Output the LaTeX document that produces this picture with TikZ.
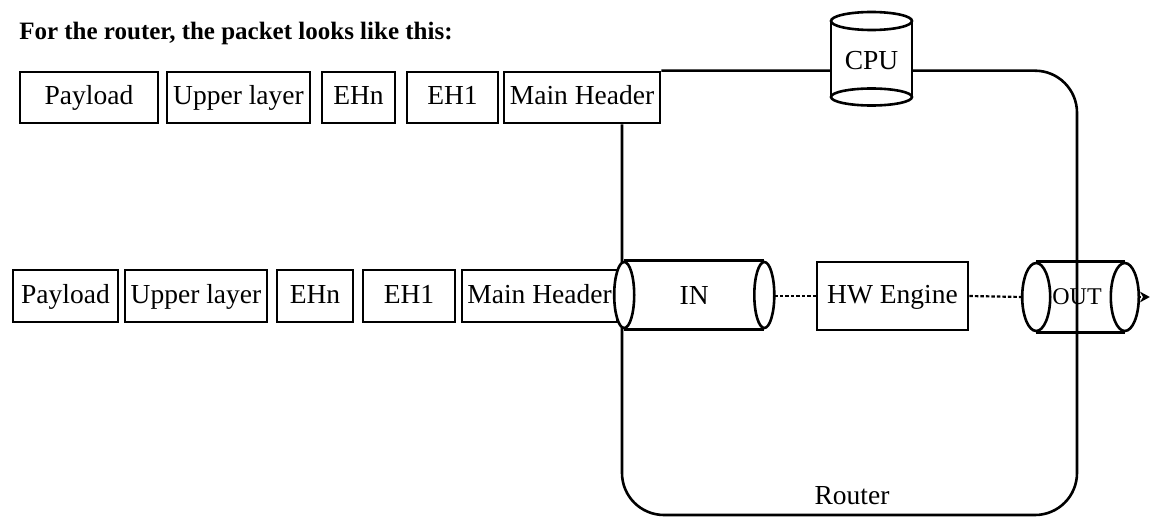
\documentclass[tikz,border=0pt]{standalone}
\usepackage{fontspec}
\setmainfont{Liberation Serif}
\usetikzlibrary{arrows.meta,calc}
\begin{document}
\begin{tikzpicture}[x=1pt,y=-1pt,line width=2.6pt,
  txt/.style={font=\fontsize{27.5}{32}\selectfont,text height=18pt,text depth=4pt},
  pbox/.style={draw,fill=white,inner sep=0pt,txt},
  toprow/.style={pbox,minimum height=51pt},
  midrow/.style={pbox,minimum height=52pt},
  dotline/.style={dash pattern=on 3.5pt off 2pt,line width=2.2pt}]
\useasboundingbox (0,0) rectangle (1152,519);

% title
\node[anchor=west,inner sep=0pt,font=\bfseries\fontsize{25}{30}\selectfont] (title) at (18,33) {For the router, the packet looks like this:};

% top row
\node[toprow,minimum width=138pt] (tp1) at (89,97.5) {Payload};
\node[toprow,minimum width=143pt] (tp2) at (238.5,97.5) {Upper layer};
\node[toprow,minimum width=73pt] (tp3) at (358.5,97.5) {EHn};
\node[toprow,minimum width=91pt] (tp4) at (452.5,97.5) {EH1};
\node[toprow,minimum width=156pt] (tp5) at (582,97.5) {Main Header};

% middle row
\node[midrow,minimum width=105pt] (mp1) at (65.5,296) {Payload};
\node[midrow,minimum width=142pt] (mp2) at (196,296) {Upper layer};
\node[midrow,minimum width=76pt] (mp3) at (315,296) {EHn};
\node[midrow,minimum width=92pt] (mp4) at (409,296) {EH1};
\node[midrow,minimum width=155pt] (mp5) at (539.5,296) {Main Header};

% router outline
\coordinate (rc) at (1077,515);
\draw[rounded corners=42pt] ([xshift=40pt]tp5.south) |- (rc) |- (tp5.north east);
\node[txt,inner sep=0pt] (router) at (852,497) {Router};

% CPU cylinder
\node[inner sep=0pt,minimum width=81pt,minimum height=93pt] (cpu) at (871.5,61) {};
\fill[white] (831,21) rectangle (912,97);
\draw (831,21) -- (831,97) (912,21) -- (912,97);
\draw (871.5,21) ellipse [x radius=40.5, y radius=9];
\draw (871.5,97) ellipse [x radius=40.5, y radius=8.5];
\node[txt,inner sep=0pt] (cputxt) at (871.5,63) {CPU};

% IN cylinder
\node[txt,inner sep=0pt,minimum width=157.5pt,minimum height=66pt] (in) at (694.25,297) {IN};
\draw ([xshift=10pt,yshift=2pt]in.north west) -- ([xshift=-10pt,yshift=2pt]in.north east);
\draw ([xshift=10pt,yshift=2pt]in.south west) -- ([xshift=-10pt,yshift=2pt]in.south east);
\draw ([xshift=-10pt,yshift=2pt]in.east) ellipse [x radius=10, y radius=33];
\draw[fill=white] ([xshift=10pt,yshift=2pt]in.west) ellipse [x radius=10, y radius=33];

% HW engine
\node[pbox,minimum width=151pt,minimum height=68pt] (hw) at (892.5,296) {HW Engine};

% OUT cylinder
\node[inner sep=0pt,minimum width=114pt,minimum height=68pt] (out) at (1080.5,297) {};
\node[inner sep=0pt,font=\fontsize{24}{28}\selectfont] (outtxt) at (1077,297) {OUT};
\draw ([xshift=14pt]out.north west) -- ([xshift=-14pt]out.north east);
\draw ([xshift=14pt]out.south west) -- ([xshift=-14pt]out.south east);
\draw ([xshift=14pt]out.west) ellipse [x radius=14, y radius=34];
\draw ([xshift=-14pt]out.east) ellipse [x radius=14, y radius=34];

% connectors
\draw[dotline] ([yshift=1pt]in.east) -- (hw.west);
\draw[dotline] (hw.east) -- (out.west);
\draw[line width=2.2pt,dash pattern=on 2.5pt off 1.5pt,-{Stealth[length=10pt,width=11pt,line width=0pt]}] (out.east) -- ++(11,0) coordinate (outend);
\end{tikzpicture}
\end{document}
